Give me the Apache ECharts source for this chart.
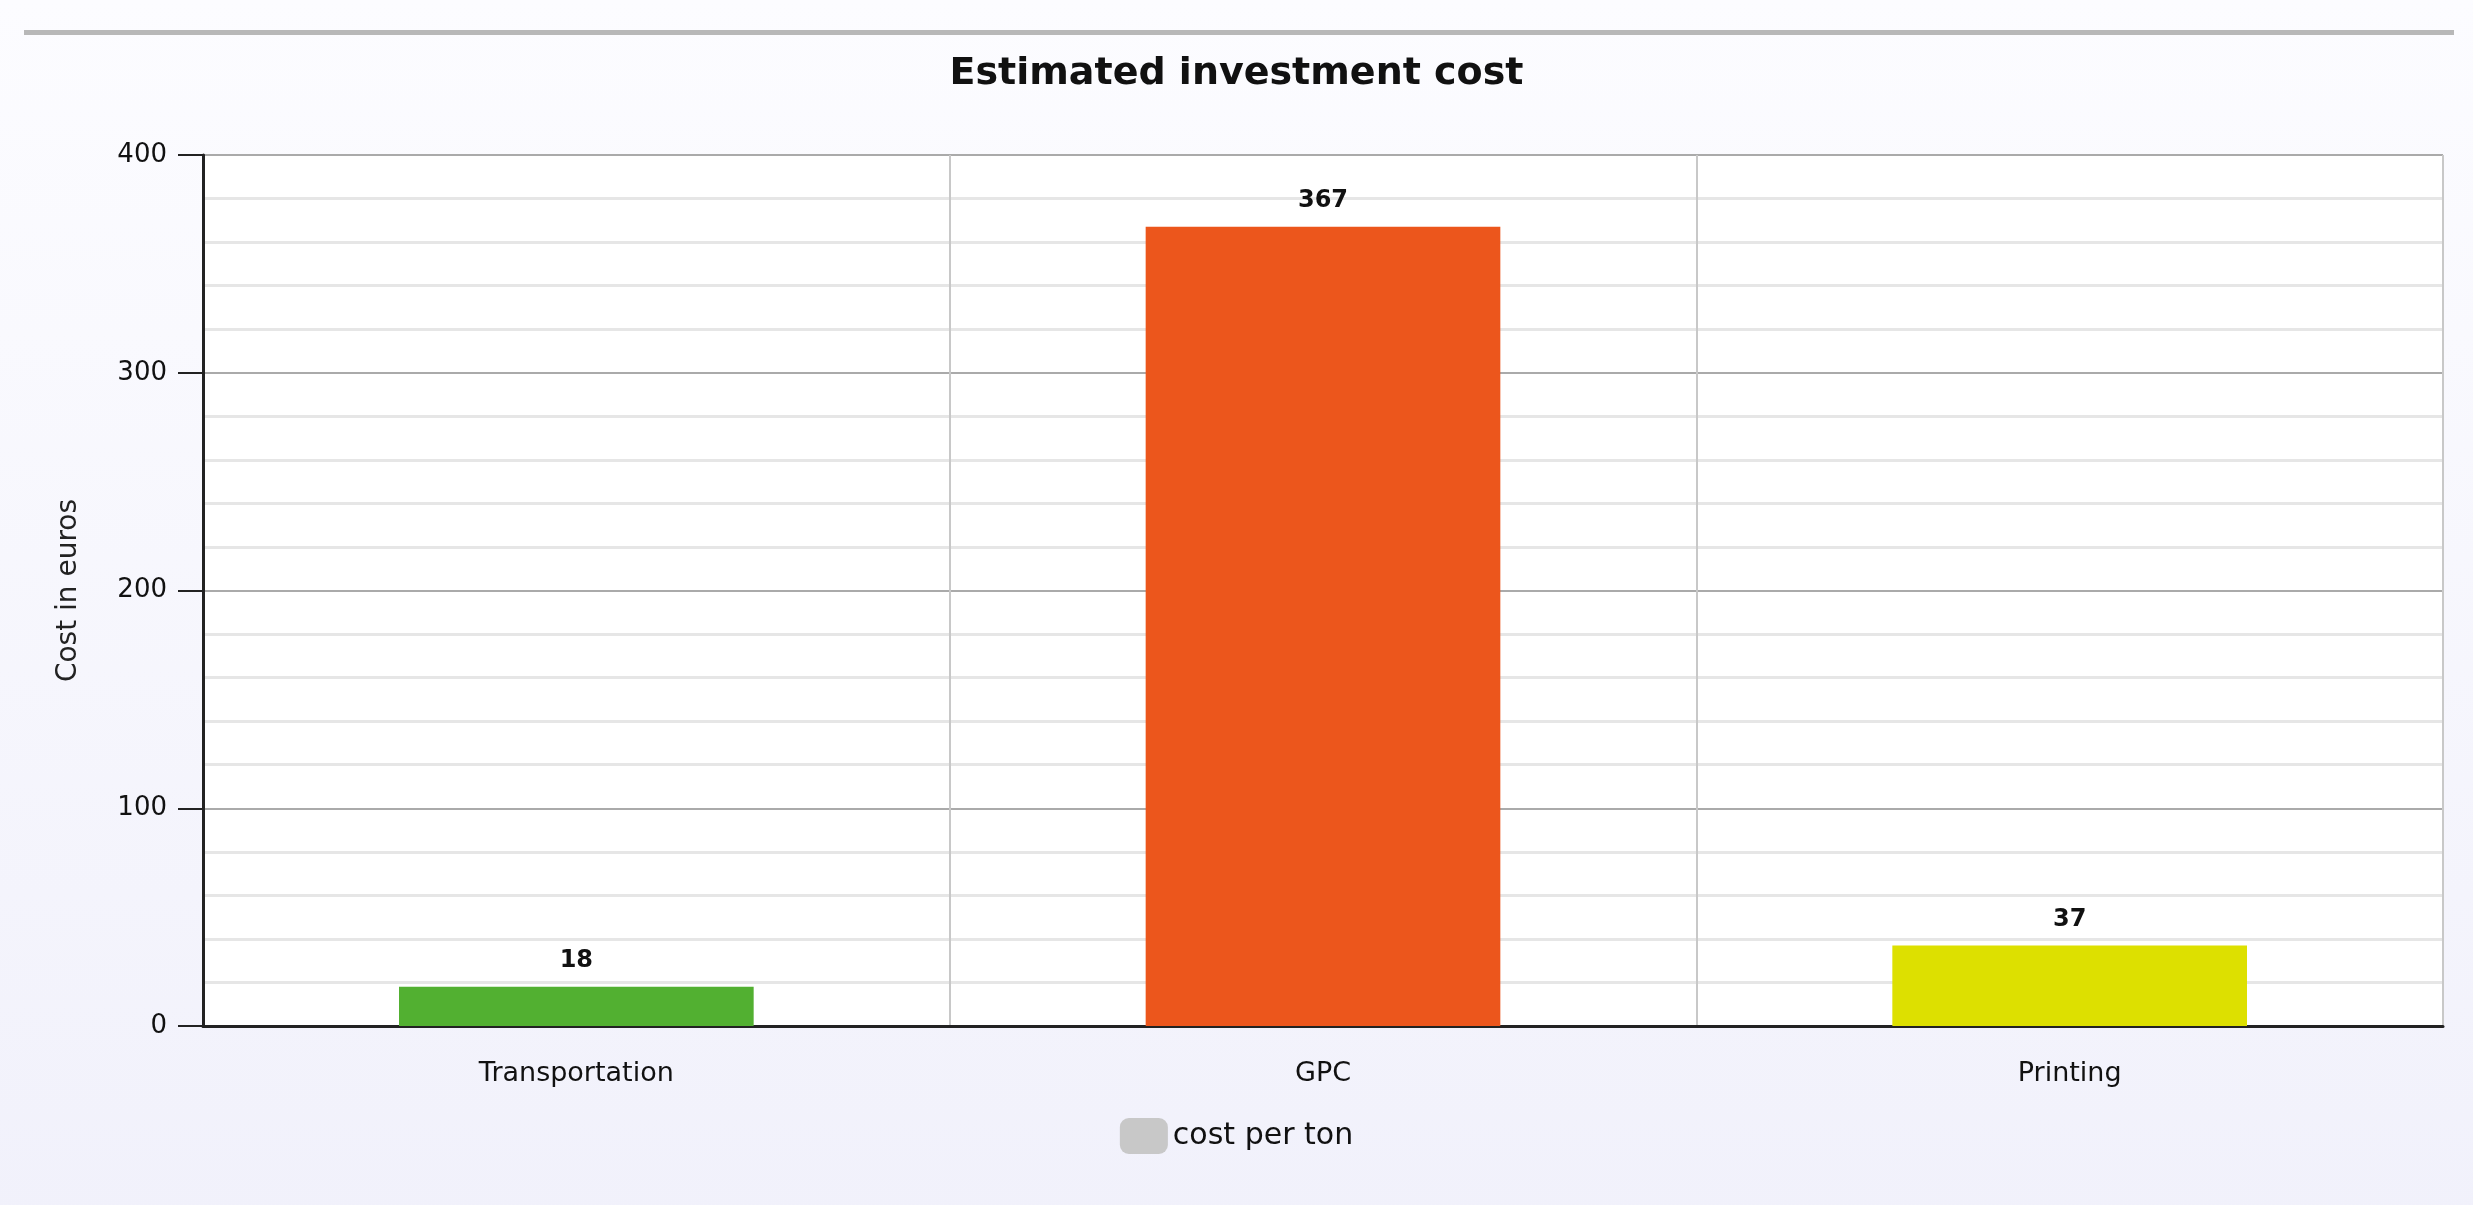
<!DOCTYPE html><html><head><meta charset="utf-8"><script src="https://cdn.jsdelivr.net/npm/echarts@6/dist/echarts.min.js"></script>
<style>html,body{margin:0;padding:0;background:#fff}#c{width:2473px;height:1227px}</style></head><body><div id="c"></div><script>
const categories=['Transportation','GPC','Printing'];
const values=[18,367,37];
const colors=['#52b031','#ec561c','#dde000'];
const chart=echarts.init(document.getElementById('c'));
chart.setOption({
backgroundColor:{type:'linear',x:0,y:0,x2:0,y2:1,colorStops:[{offset:0,color:'#fcfcff'},{offset:1,color:'#f1f1fb'}]},
graphic:[{type:'rect',left:24,top:30,shape:{width:2430,height:5},style:{fill:'#b8b8b8'}},
{type:'rect',left:0,top:1205,shape:{width:2473,height:22},style:{fill:'#fff'}}],
title:{text:'Estimated investment cost',left:'center',top:50,textStyle:{fontFamily:'DejaVu Sans',fontSize:38,fontWeight:'bold',color:'#111'}},
legend:{bottom:68,left:'center',itemWidth:48,itemHeight:36,data:[{name:'cost per ton',itemStyle:{color:'#c8c8c8'}}],textStyle:{fontFamily:'DejaVu Sans',fontSize:30,color:'#111'}},
grid:{left:203,right:30,top:155,bottom:201,backgroundColor:'#fff',show:true,borderWidth:0},
xAxis:{type:'category',data:categories,axisLine:{lineStyle:{color:'#222',width:3}},axisTick:{length:28,lineStyle:{color:'#222',width:2}},
splitLine:{show:true,lineStyle:{color:'#c8c8c8',width:2}},axisLabel:{fontFamily:'DejaVu Sans',fontSize:27,color:'#111',margin:34}},
yAxis:{type:'value',min:0,max:400,interval:100,name:'Cost in euros',nameLocation:'middle',nameGap:120,nameTextStyle:{fontFamily:'DejaVu Sans',fontSize:28,color:'#222'},
axisLine:{show:true,lineStyle:{color:'#222',width:3}},axisTick:{show:true,length:25,lineStyle:{color:'#222',width:2}},
axisLabel:{fontFamily:'DejaVu Sans',fontSize:26,color:'#111',margin:36},
splitLine:{lineStyle:{color:'#aaa',width:2}},minorTick:{show:false,splitNumber:5},minorSplitLine:{show:true,lineStyle:{color:'#e6e6e6',width:3}}},
series:[{name:'cost per ton',type:'bar',barWidth:'47.5%',data:values.map((v,i)=>({value:v,itemStyle:{color:colors[i]}})),
label:{show:true,position:'top',distance:14,fontFamily:'DejaVu Sans',fontWeight:'bold',fontSize:24,color:'#111'}}]
});
</script></body></html>
